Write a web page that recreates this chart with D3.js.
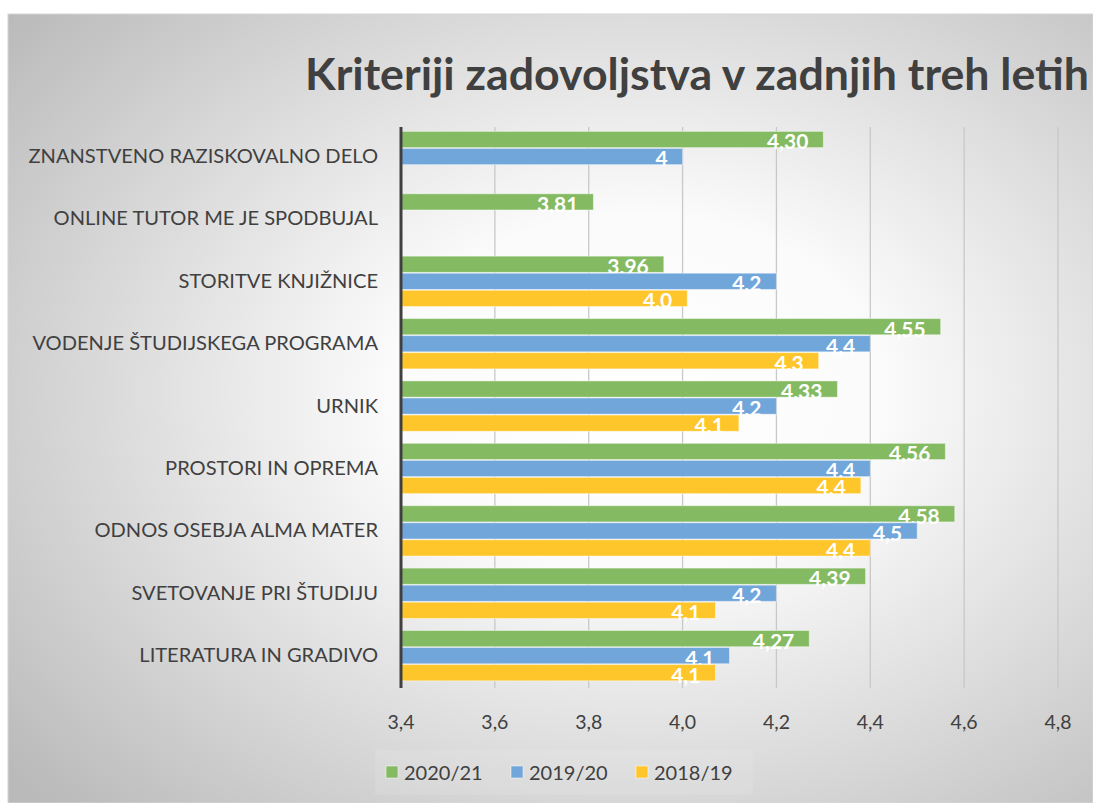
<!DOCTYPE html>
<html>
<head>
<meta charset="utf-8">
<script src="https://cdn.jsdelivr.net/npm/d3@7"></script>
<style>
  html, body { margin: 0; padding: 0; background: #fff; }
  svg { display: block; font-family: Lato, "Open Sans", sans-serif; }
</style>
</head>
<body>
<svg id="chart" width="1093" height="803"></svg>
<script>
  const categories = [
    "ZNANSTVENO RAZISKOVALNO DELO",
    "ONLINE TUTOR ME JE SPODBUJAL",
    "STORITVE KNJIŽNICE",
    "VODENJE ŠTUDIJSKEGA PROGRAMA",
    "URNIK",
    "PROSTORI IN OPREMA",
    "ODNOS OSEBJA ALMA MATER",
    "SVETOVANJE PRI ŠTUDIJU",
    "LITERATURA IN GRADIVO"
  ];
  const seriesNames = ["2020/21", "2019/20", "2018/19"];
  const values2021 = [4.30, 3.81, 3.96, 4.55, 4.33, 4.56, 4.58, 4.39, 4.27];
  const values1920 = [4.0, null, 4.2, 4.4, 4.2, 4.4, 4.5, 4.2, 4.1];
  const values1819 = [null, null, 4.01, 4.29, 4.12, 4.38, 4.4, 4.07, 4.07];
  const xTicks = [3.4, 3.6, 3.8, 4.0, 4.2, 4.4, 4.6, 4.8];
  const colors = ["#84bb62", "#71a6db", "#ffc62b"];

  const title = "Kriteriji zadovoljstva v zadnjih treh letih";

  const svg = d3.select("#chart");

  // background with soft radial gradient
  const defs = svg.append("defs");
  const grad = defs.append("radialGradient")
    .attr("id", "bg")
    .attr("cx", "58%").attr("cy", "48%").attr("r", "75%");
  grad.append("stop").attr("offset", "0%").attr("stop-color", "#ffffff");
  grad.append("stop").attr("offset", "30%").attr("stop-color", "#fbfbfb");
  grad.append("stop").attr("offset", "100%").attr("stop-color", "#bababa");

  svg.append("rect")
    .attr("x", 8).attr("y", 14).attr("width", 1085).attr("height", 789)
    .attr("fill", "url(#bg)")
    .attr("stroke", "#d6d6d6");

  const x = d3.scaleLinear().domain([3.4, 4.8]).range([401, 1058]);
  const y = d3.scaleBand().domain(categories).range([127, 686])
    .paddingInner(0.18).paddingOuter(0.07);
  const ySub = d3.scaleBand().domain(seriesNames).range([0, y.bandwidth()]);

  // gridlines
  svg.append("g")
    .selectAll("line")
    .data(xTicks.slice(1))
    .join("line")
    .attr("x1", d => x(d)).attr("x2", d => x(d))
    .attr("y1", 127).attr("y2", 688)
    .attr("stroke", "#c8c8c8").attr("stroke-width", 1.3);

  // tick labels
  const fmtComma = f => v => d3.format(f)(v).replace(".", ",");
  svg.append("g")
    .selectAll("text")
    .data(xTicks)
    .join("text")
    .attr("x", d => x(d)).attr("y", 729)
    .attr("text-anchor", "middle")
    .attr("font-size", 19.5)
    .attr("fill", "#404040")
    .text(fmtComma(".1f"));

  // bars
  const series = [values2021, values1920, values1819];
  const labelFormats = [
    fmtComma(".2f"),
    v => (v % 1 === 0 ? String(v) : fmtComma(".1f")(v)),
    fmtComma(".1f")
  ];

  series.forEach((vals, s) => {
    const rows = categories.map((c, i) => ({ c, v: vals[i] })).filter(d => d.v != null);
    const g = svg.append("g");
    g.selectAll("rect")
      .data(rows)
      .join("rect")
      .attr("x", x(3.4))
      .attr("y", d => y(d.c) + ySub(seriesNames[s]))
      .attr("width", d => x(d.v) - x(3.4))
      .attr("height", ySub.bandwidth() - 0.8)
      .attr("fill", colors[s])
      .attr("stroke", "#ffffff").attr("stroke-opacity", 0.45).attr("stroke-width", 1);
    g.selectAll("text")
      .data(rows)
      .join("text")
      .attr("x", d => x(d.v) - 15)
      .attr("y", d => y(d.c) + ySub(seriesNames[s]) + ySub.bandwidth() + 1)
      .attr("text-anchor", "end")
      .attr("font-size", 21)
      .attr("font-weight", 700)
      .attr("fill", "#ffffff")
      .text(d => labelFormats[s](d.v));
  });

  // vertical axis line
  svg.append("line")
    .attr("x1", x(3.4)).attr("x2", x(3.4))
    .attr("y1", 127).attr("y2", 688)
    .attr("stroke", "#404040").attr("stroke-width", 3);

  // category labels
  svg.append("g")
    .selectAll("text")
    .data(categories)
    .join("text")
    .attr("x", 378)
    .attr("y", d => y(d) + y.bandwidth() / 2 + 6)
    .attr("text-anchor", "end")
    .attr("font-size", 20.1)
    .attr("fill", "#404040")
    .text(d => d);

  // title
  svg.append("text")
    .attr("x", 305).attr("y", 90)
    .attr("font-size", 44.7)
    .attr("font-weight", 700)
    .attr("fill", "#404040")
    .text(title);

  // legend
  svg.append("rect")
    .attr("x", 375).attr("y", 750).attr("width", 378).attr("height", 45)
    .attr("fill", "#ffffff").attr("opacity", 0.1);
  const legendX = [386, 511, 636];
  const lg = svg.append("g")
    .selectAll("g")
    .data(seriesNames)
    .join("g")
    .attr("transform", (d, i) => `translate(${legendX[i]},766)`);
  lg.append("rect")
    .attr("width", 12).attr("height", 12)
    .attr("fill", (d, i) => colors[i])
    .attr("stroke", "#ffffff").attr("stroke-opacity", 0.5);
  lg.append("text")
    .attr("x", 18).attr("y", 14)
    .attr("font-size", 20)
    .attr("fill", "#404040")
    .text(d => d);
</script>
</body>
</html>
